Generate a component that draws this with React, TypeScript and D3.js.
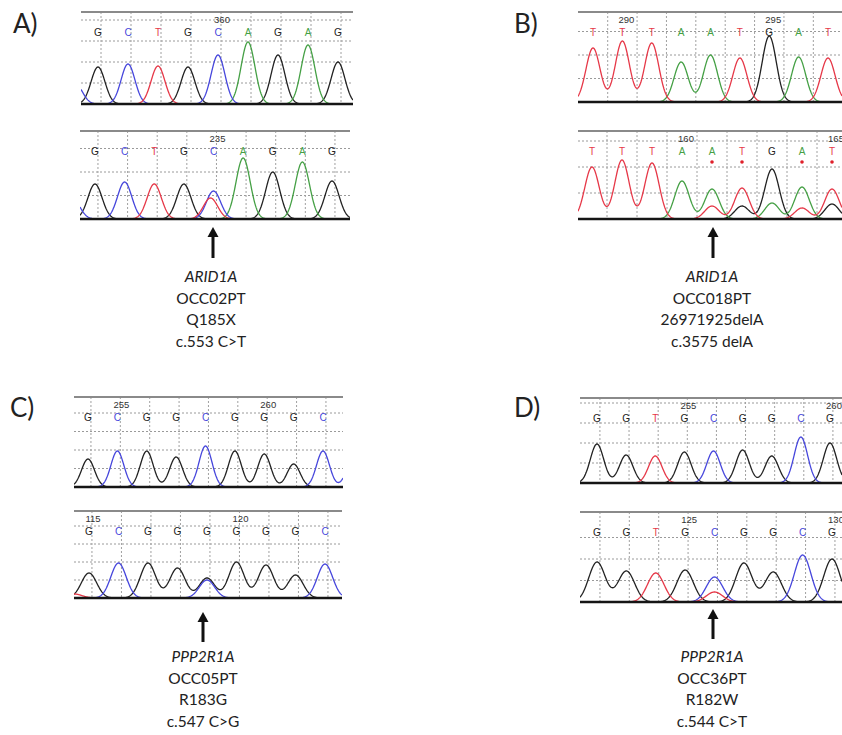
import React from 'react';
import * as d3 from 'd3';

// base calls, peak heights (px above baseline)
const aTopCalls = ['G', 'C', 'T', 'G', 'C', 'A', 'G', 'A', 'G'];
const aTopHeights = [37, 40, 38, 37, 49, 62, 49, 59, 42];
const aTopExtra = [{ i: -0.75, b: 'C', h: 20 }];
const aTopTicks = [{ i: 4, label: '360' }];

const aBotCalls = ['G', 'C', 'T', 'G', 'C', 'A', 'G', 'A', 'G'];
const aBotHeights = [35, 37, 35, 35, 28, 61, 47, 57, 38];
const aBotExtra = [{ i: -0.75, b: 'C', h: 20 }, { i: 3.9, b: 'T', h: 21 }];
const aBotTicks = [{ i: 4, label: '235' }];

const bTopCalls = ['T', 'T', 'T', 'A', 'A', 'T', 'G', 'A', 'T'];
const bTopHeights = [54, 61, 59, 40, 47, 44, 66, 45, 44];
const bTopExtra: { i: number; b: string; h: number }[] = [];
const bTopTicks = [{ i: 1, label: '290' }, { i: 6, label: '295' }];

const bBotCalls = ['T', 'T', 'T', 'A', 'A', 'T', 'G', 'A', 'T'];
const bBotHeights = [52, 59, 56, 38, 30, 31, 50, 32, 30];
const bBotExtra = [
  { i: 4, b: 'T', h: 13 },
  { i: 5, b: 'G', h: 13 },
  { i: 6, b: 'A', h: 16 },
  { i: 7, b: 'T', h: 11 },
  { i: 8, b: 'G', h: 15 },
];
const bBotTicks = [{ i: 3, label: '160' }, { i: 8, label: '165' }];
const bBotDots = [4, 5, 7, 8];

const cTopCalls = ['G', 'C', 'G', 'G', 'C', 'G', 'G', 'G', 'C'];
const cTopHeights = [28, 36, 36, 30, 41, 36, 33, 23, 36];
const cTopExtra = [{ i: 9, b: 'C', h: 25 }];
const cTopTicks = [{ i: 1, label: '255' }, { i: 6, label: '260' }];

const cBotCalls = ['G', 'C', 'G', 'G', 'G', 'G', 'G', 'G', 'C'];
const cBotHeights = [25, 35, 35, 30, 20, 36, 33, 23, 34];
const cBotExtra = [{ i: -0.5, b: 'T', h: 4 }, { i: 4, b: 'C', h: 18 }];
const cBotTicks = [{ i: 0, label: '115' }, { i: 5, label: '120' }];

const dTopCalls = ['G', 'G', 'T', 'G', 'C', 'G', 'G', 'C', 'G'];
const dTopHeights = [39, 28, 27, 31, 32, 33, 27, 46, 40];
const dTopExtra: { i: number; b: string; h: number }[] = [];
const dTopTicks = [{ i: 3, label: '255' }, { i: 8, label: '260' }];

const dBotCalls = ['G', 'G', 'T', 'G', 'C', 'G', 'G', 'C', 'G'];
const dBotHeights = [40, 31, 29, 32, 25, 39, 30, 47, 43];
const dBotExtra = [{ i: 4, b: 'T', h: 10 }];
const dBotTicks = [{ i: 3, label: '125' }, { i: 8, label: '130' }];

const panelLabels = ['A)', 'B)', 'C)', 'D)'];
const captionA = ['ARID1A', 'OCC02PT', 'Q185X', 'c.553 C>T'];
const captionB = ['ARID1A', 'OCC018PT', '26971925delA', 'c.3575 delA'];
const captionC = ['PPP2R1A', 'OCC05PT', 'R183G', 'c.547 C>G'];
const captionD = ['PPP2R1A', 'OCC36PT', 'R182W', 'c.544 C>T'];

const W = 842;
const H = 735;

const colors: Record<string, string> = {
  A: '#45a045',
  C: '#4646dc',
  G: '#222222',
  T: '#e63848',
};

type Peak = { i: number; b: string; h: number };
type Layout = {
  left: number; right: number; top: number; base: number;
  first: number; last: number; sigma: number; gridStep: number; phase: number;
};

function Trace({ id, lay, calls, heights, extra, ticks, dots = [] }: {
  id: string; lay: Layout; calls: string[]; heights: number[]; extra: Peak[];
  ticks: { i: number; label: string }[]; dots?: number[];
}) {
  const x = d3.scaleLinear().domain([0, calls.length - 1]).range([lay.first, lay.last]);
  const y = d3.scaleLinear().domain([0, lay.base - lay.top]).range([lay.base, lay.top]);
  const peaks: Peak[] = calls.map((b, i) => ({ i, b, h: heights[i] })).concat(extra);
  const right = Math.min(lay.right, W);
  const samples = d3.range(lay.left, right + 0.5, 0.5);
  const line = d3.line<[number, number]>().x(d => d[0]).y(d => d[1]);

  // each channel = sum of gaussian peaks
  const curve = (ch: string) =>
    line(samples.map(px => {
      const t = x.invert(px);
      const v = d3.sum(peaks.filter(p => p.b === ch), p =>
        p.h * Math.exp(-((t - p.i) ** 2) / (2 * lay.sigma * lay.sigma)));
      return [px, y(v)] as [number, number];
    }));

  const hGrid: number[] = [];
  for (let k = 1; lay.base - k * lay.gridStep > lay.top + 4; k++) hGrid.push(lay.base - k * lay.gridStep);
  const vGrid = d3.range(Math.ceil(x.invert(lay.left) - lay.phase), Math.floor(x.invert(right) - lay.phase) + 1)
    .map(i => x(i + lay.phase))
    .filter(px => px > lay.left + 2 && px < right);

  return (
    <g>
      <clipPath id={id}>
        <rect x={lay.left} y={lay.top - 3} width={right - lay.left} height={lay.base - lay.top + 6} />
      </clipPath>
      <g clipPath={`url(#${id})`}>
        {hGrid.map((gy, k) => (
          <line key={k} x1={lay.left} x2={right} y1={gy} y2={gy} stroke="#9a9a9a" strokeWidth={1} strokeDasharray="2,2" />
        ))}
        {vGrid.map((gx, k) => (
          <line key={k} x1={gx} x2={gx} y1={lay.top} y2={lay.base} stroke="#a0a0a0" strokeWidth={1} strokeDasharray="2,2" />
        ))}
        {ticks.map(t => (
          <text key={t.label} x={x(t.i) + 4} y={lay.top + 11} fontSize={9.5} fill="#333" textAnchor="middle"
            fontFamily="Liberation Sans, Arial, sans-serif">{t.label}</text>
        ))}
        {calls.map((b, i) => (
          <text key={i} x={x(i)} y={lay.top + 24} fontSize={10} fill={colors[b]} textAnchor="middle"
            fontFamily="Liberation Sans, Arial, sans-serif">{b}</text>
        ))}
        {dots.map(i => (
          <circle key={i} cx={x(i)} cy={lay.top + 31} r={1.8} fill="#e0202a" />
        ))}
        {['G', 'A', 'C', 'T'].map(ch => (
          <path key={ch} d={curve(ch) ?? ''} fill="none" stroke={colors[ch]} strokeWidth={1.3} />
        ))}
      </g>
      <line x1={lay.left} x2={right} y1={lay.top} y2={lay.top} stroke="#8a8a8a" strokeWidth={2} />
      <line x1={lay.left} x2={right} y1={lay.base} y2={lay.base} stroke="#151515" strokeWidth={2.5} />
    </g>
  );
}

function Arrow({ cx, y1, y2 }: { cx: number; y1: number; y2: number }) {
  return (
    <g fill="#111">
      <rect x={cx - 1.5} y={y1 + 8} width={3} height={y2 - y1 - 8} />
      <path d={`M${cx},${y1} L${cx + 5.5},${y1 + 10} L${cx - 5.5},${y1 + 10} Z`} />
    </g>
  );
}

function Caption({ cx, y0, lines }: { cx: number; y0: number; lines: string[] }) {
  const step = 21.7;
  return (
    <g fontFamily="Lato, 'Open Sans', sans-serif" fontSize={15.5} fill="#222" textAnchor="middle">
      {lines.map((s, k) => (
        <text key={k} x={cx} y={y0 + k * step + 5} fontStyle={k === 0 ? 'italic' : 'normal'}>{s}</text>
      ))}
    </g>
  );
}

const lay = {
  aTop: { left: 81, right: 353, top: 12, base: 104, first: 98, last: 338, sigma: 0.23, gridStep: 21, phase: 0.1 },
  aBot: { left: 80, right: 350, top: 131, base: 219, first: 95, last: 332, sigma: 0.24, gridStep: 23.5, phase: 0.1 },
  bTop: { left: 578, right: 860, top: 12, base: 102, first: 593, last: 828, sigma: 0.24, gridStep: 23.5, phase: 0.5 },
  bBot: { left: 578, right: 860, top: 131, base: 219, first: 592, last: 832, sigma: 0.24, gridStep: 26, phase: 0.5 },
  cTop: { left: 74, right: 343, top: 397, base: 487, first: 88, last: 323, sigma: 0.22, gridStep: 18.5, phase: 0.1 },
  cBot: { left: 74, right: 342, top: 511, base: 598, first: 89, last: 325, sigma: 0.26, gridStep: 18, phase: 0.1 },
  dTop: { left: 580, right: 860, top: 398, base: 483, first: 597, last: 830, sigma: 0.23, gridStep: 20, phase: 0.1 },
  dBot: { left: 580, right: 860, top: 512, base: 602, first: 597, last: 832, sigma: 0.28, gridStep: 21.5, phase: 0.1 },
};

const labelPos = [[13, 33], [514, 33], [10, 417], [514, 417]];

export default function App() {
  return (
    <svg width={W} height={H} style={{ position: 'absolute', left: 0, top: 0, background: '#fff' }}>
      {panelLabels.map((s, k) => (
        <text key={s} x={labelPos[k][0]} y={labelPos[k][1]} fontSize={26} fill="#222"
          fontFamily="Lato, 'Open Sans', sans-serif">{s}</text>
      ))}
      <Trace id="aT" lay={lay.aTop} calls={aTopCalls} heights={aTopHeights} extra={aTopExtra} ticks={aTopTicks} />
      <Trace id="aB" lay={lay.aBot} calls={aBotCalls} heights={aBotHeights} extra={aBotExtra} ticks={aBotTicks} />
      <Trace id="bT" lay={lay.bTop} calls={bTopCalls} heights={bTopHeights} extra={bTopExtra} ticks={bTopTicks} />
      <Trace id="bB" lay={lay.bBot} calls={bBotCalls} heights={bBotHeights} extra={bBotExtra} ticks={bBotTicks} dots={bBotDots} />
      <Trace id="cT" lay={lay.cTop} calls={cTopCalls} heights={cTopHeights} extra={cTopExtra} ticks={cTopTicks} />
      <Trace id="cB" lay={lay.cBot} calls={cBotCalls} heights={cBotHeights} extra={cBotExtra} ticks={cBotTicks} />
      <Trace id="dT" lay={lay.dTop} calls={dTopCalls} heights={dTopHeights} extra={dTopExtra} ticks={dTopTicks} />
      <Trace id="dB" lay={lay.dBot} calls={dBotCalls} heights={dBotHeights} extra={dBotExtra} ticks={dBotTicks} />

      <Arrow cx={213} y1={227} y2={258} />
      <Arrow cx={713} y1={227} y2={258} />
      <Arrow cx={203} y1={612} y2={642} />
      <Arrow cx={713} y1={609} y2={639} />

      <Caption cx={211} y0={277} lines={captionA} />
      <Caption cx={712} y0={277} lines={captionB} />
      <Caption cx={203} y0={657} lines={captionC} />
      <Caption cx={712} y0={657} lines={captionD} />
    </svg>
  );
}
